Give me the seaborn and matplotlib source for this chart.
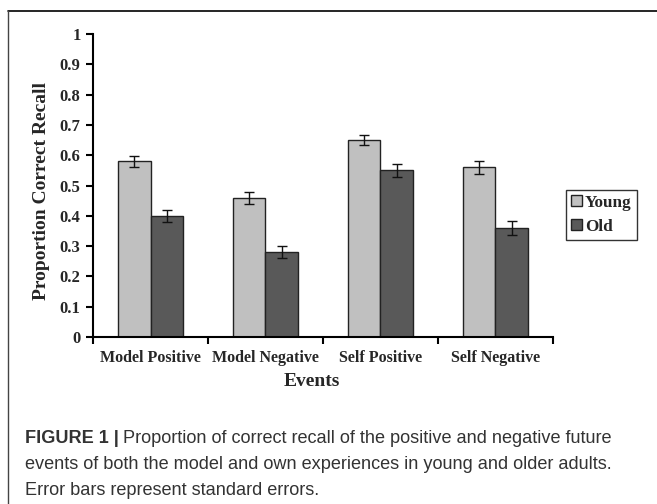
import numpy as np
import pandas as pd
import seaborn as sns
from matplotlib import pyplot as plt
from matplotlib.lines import Line2D

events = ["Model Positive", "Model Negative", "Self Positive", "Self Negative"]
groups = ["Young", "Old"]
young_mean = [0.58, 0.46, 0.65, 0.56]
old_mean = [0.40, 0.28, 0.55, 0.36]
young_se = [0.018, 0.020, 0.016, 0.022]
old_se = [0.020, 0.020, 0.022, 0.023]
yticks = [0, 0.1, 0.2, 0.3, 0.4, 0.5, 0.6, 0.7, 0.8, 0.9, 1]
ytick_labels = ["0", "0.1", "0.2", "0.3", "0.4", "0.5", "0.6", "0.7", "0.8", "0.9", "1"]
group_colors = {"Young": "#c0c0c0", "Old": "#595959"}

df = pd.DataFrame({
    "event": events * 2,
    "group": ["Young"] * 4 + ["Old"] * 4,
    "recall": young_mean + old_mean,
})
se = {"Young": young_se, "Old": old_se}

sns.set_style("white")
plt.rcParams["font.family"] = ["Liberation Serif", "DejaVu Serif"]

fig = plt.figure(figsize=(6.57, 5.04), dpi=100)
ax = fig.add_axes([0.1416, 0.3313, 0.700, 0.6012])

sns.barplot(data=df, x="event", y="recall", hue="group", order=events, hue_order=groups,
            palette=group_colors, width=0.57, gap=0, errorbar=None, saturation=1,
            edgecolor="#222222", linewidth=1.0, ax=ax, legend=True)

for cont, g in zip(ax.containers, groups):
    xs = [p.get_x() + p.get_width() / 2 for p in cont.patches]
    hs = [p.get_height() for p in cont.patches]
    ax.errorbar(xs, hs, yerr=se[g], fmt="none", ecolor="#111111", elinewidth=1.0, capsize=3.5, capthick=1.0)

ax.set_xlim(-0.5, 3.5)
ax.set_ylim(0, 1)
ax.set_yticks(yticks)
ax.set_yticklabels(ytick_labels)
ax.set_xticks(np.arange(-0.5, 4.0, 1.0), minor=True)
ax.tick_params(axis="x", which="major", bottom=True, length=0, pad=9, labelsize=11.5)
ax.tick_params(axis="x", which="minor", bottom=True, length=5, width=1.5, direction="out", color="black")
ax.tick_params(axis="y", left=True, length=5, width=1.5, direction="out", color="black", pad=4, labelsize=12)
for lab in ax.get_xticklabels() + ax.get_yticklabels():
    lab.set_fontweight("bold")
sns.despine(ax=ax)
for s in ["left", "bottom"]:
    ax.spines[s].set_linewidth(1.5)
    ax.spines[s].set_color("black")

ax.set_xlabel("Events", fontsize=14, fontweight="bold")
ax.xaxis.set_label_coords(0.475, -0.12)
ax.set_ylabel("Proportion Correct Recall", fontsize=14, fontweight="bold")
ax.yaxis.set_label_coords(-0.094, 0.482)

leg = ax.legend(loc="center left", bbox_to_anchor=(0.862, 0.574), bbox_transform=fig.transFigure,
                frameon=True, fancybox=False, edgecolor="black", fontsize=12.3,
                handlelength=0.6, handleheight=0.6, handletextpad=0.2, labelspacing=0.45,
                borderpad=0.3, borderaxespad=0)
leg.get_frame().set_linewidth(1.0)
for t in leg.get_texts():
    t.set_fontweight("bold")

# figure frame (top and left edges)
fig.add_artist(Line2D([0.0122, 1.0], [0.978, 0.978], transform=fig.transFigure, color="black", lw=1.2))
fig.add_artist(Line2D([0.0122, 0.0122], [0.0, 0.978], transform=fig.transFigure, color="#444444", lw=1.0))

cap_kw = dict(transform=fig.transFigure, fontsize=13.1, color="#333333", family=["Liberation Sans", "DejaVu Sans"])
t1 = fig.text(0.038, 0.122, "FIGURE 1 |", fontweight="bold", **cap_kw)
fig.canvas.draw()
bb = t1.get_window_extent()
x1 = fig.transFigure.inverted().transform((bb.x1, bb.y0))[0]
fig.text(x1 + 0.006, 0.122, "Proportion of correct recall of the positive and negative future", **cap_kw)
fig.text(0.038, 0.070, "events of both the model and own experiences in young and older adults.", **cap_kw)
fig.text(0.038, 0.018, "Error bars represent standard errors.", **cap_kw)

fig.savefig("out.png", dpi=100)
